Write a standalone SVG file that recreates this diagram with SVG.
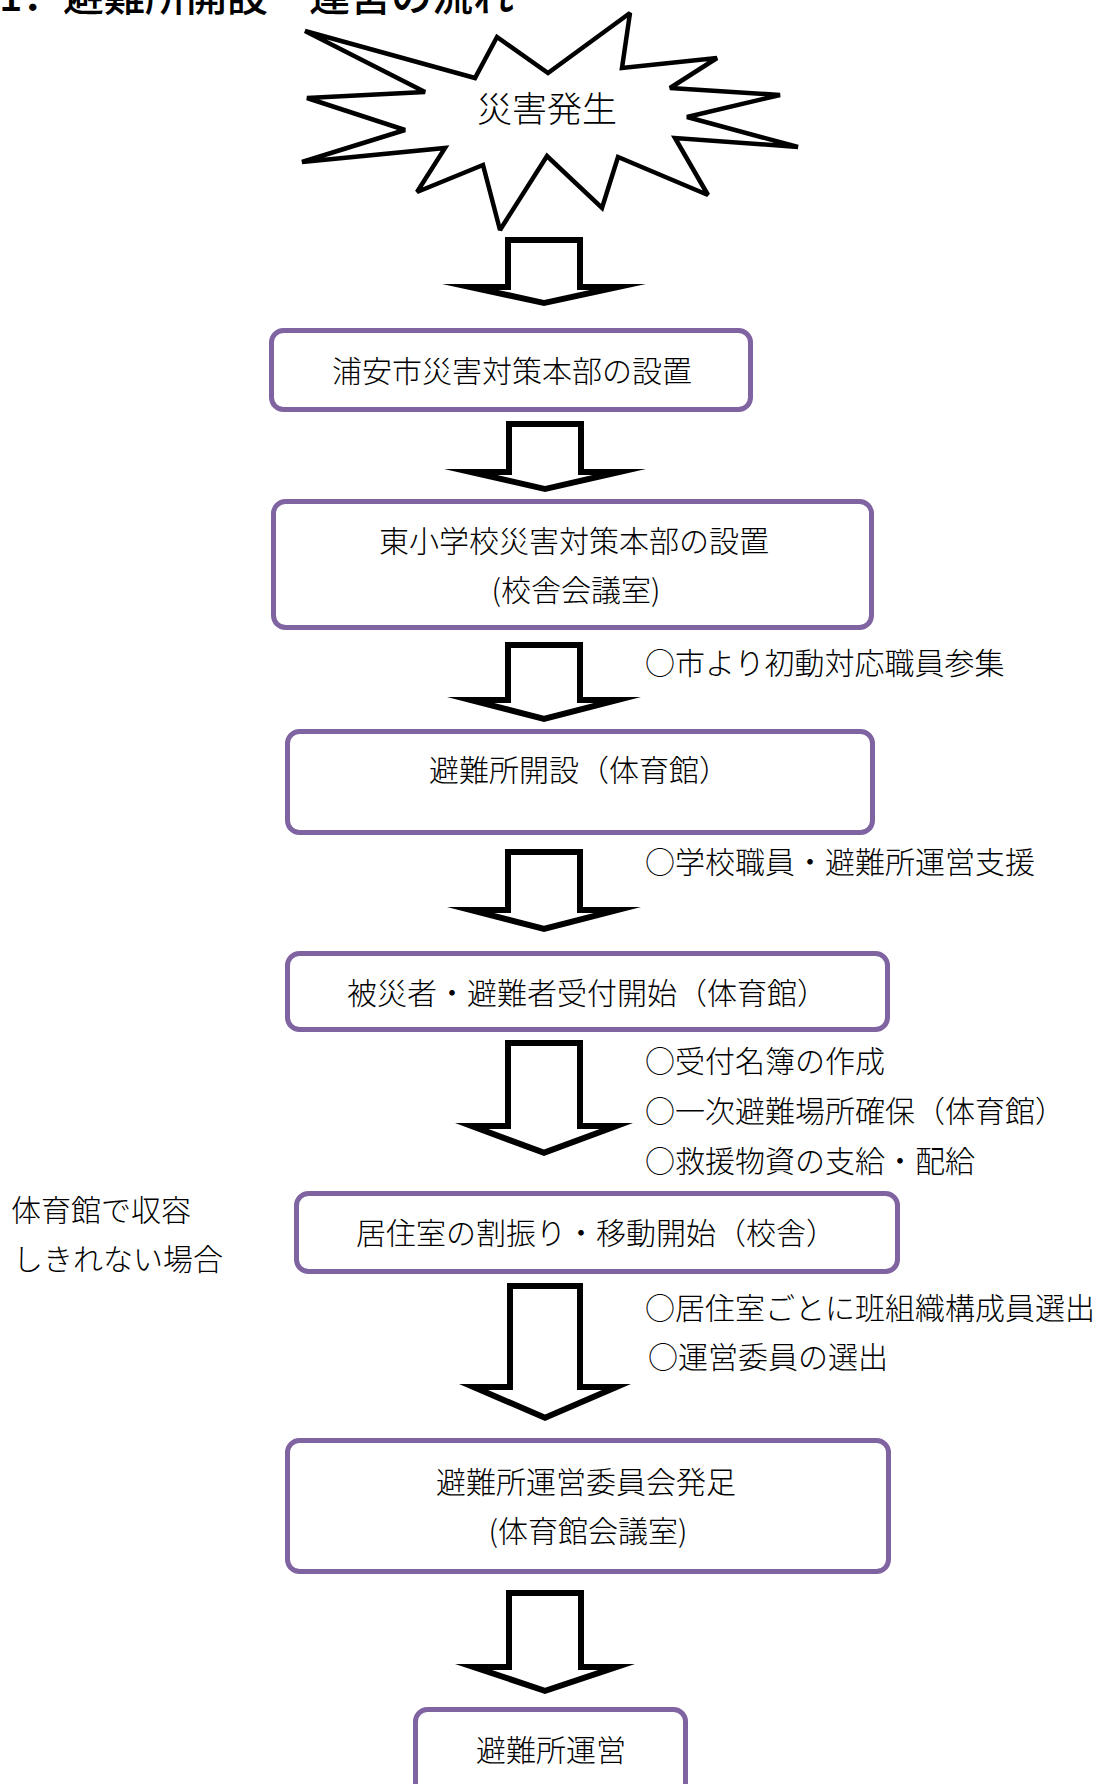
<svg xmlns="http://www.w3.org/2000/svg" width="1103" height="1784" viewBox="0 0 1103 1784">
<style>
.bg{fill:#ffffff}
.box{fill:#ffffff;stroke:#8064A2;stroke-width:5}
.t{font-family:"Noto Sans CJK JP","Noto Sans CJK SC",sans-serif;font-size:30px;fill:#000000;font-weight:300}
.title{font-family:"Noto Sans CJK JP","Noto Sans CJK SC",sans-serif;font-size:41px;fill:#000000;font-weight:500}
.star{fill:#ffffff;stroke:#000000;stroke-width:4.5;stroke-linejoin:miter;stroke-miterlimit:2.5}
.arrow{fill:#000000;fill-rule:evenodd}
.mid{text-anchor:middle}
</style>
<rect class="bg" x="0" y="0" width="1103" height="1784"/>
<g id="title">
<text class="title" y="11"><tspan x="-1">1．</tspan><tspan x="63">避難所開設</tspan><tspan x="268">・</tspan><tspan x="309">運営の流れ</tspan></text>
</g>
<g id="connectors">
<path class="arrow" d="M505,237 L583,237 L583,284 L646,284 L544,306 L442,284 L505,284 Z M511,243 L511,290 L498.3,290 L544,299.9 L589.7,290 L577,290 L577,243 Z"/>
<path class="arrow" d="M506,421 L584,421 L584,469 L646,469 L545,492 L444,469 L506,469 Z M512,427 L512,475 L497.4,475 L545,485.9 L592.6,475 L578,475 L578,427 Z"/>
<path class="arrow" d="M505,642 L583,642 L583,697 L641,697 L544,722 L447,697 L505,697 Z M511,648 L511,703 L494.3,703 L544,715.8 L593.7,703 L577,703 L577,648 Z"/>
<path class="arrow" d="M505,849 L583,849 L583,907 L641,907 L544,932 L447,907 L505,907 Z M511,855 L511,913 L494.3,913 L544,925.8 L593.7,913 L577,913 L577,855 Z"/>
<path class="arrow" d="M505,1040 L583,1040 L583,1123 L633,1123 L544,1156 L455,1123 L505,1123 Z M511,1046 L511,1129 L488.4,1129 L544,1149.6 L599.6,1129 L577,1129 L577,1046 Z"/>
<path class="arrow" d="M507,1283 L583,1283 L583,1384 L631,1384 L545,1421 L459,1384 L507,1384 Z M513,1289 L513,1390 L488.1,1390 L545,1414.5 L601.9,1390 L577,1390 L577,1289 Z"/>
<path class="arrow" d="M506,1590 L584,1590 L584,1664 L635,1664 L545,1694 L455,1664 L506,1664 Z M512,1596 L512,1670 L492,1670 L545,1687.7 L598,1670 L578,1670 L578,1596 Z"/>
</g>
<g id="node-disaster">
<polygon class="star" points="305,31 475,78 497,37 548,73 630,13 622,68 717,58 670,88 780,95 687,117 798,147 675,138 708,195 618,157 602,208 547,156 500,230 483,165 417,192 445,148 302,162 405,130 307,98 425,92"/>
<text class="t" x="477" y="122" style="font-size:35px">災害発生</text>
</g>
<g id="node-city-hq">
<rect class="box" x="271.5" y="330.5" width="479" height="79" rx="12"/>
<text class="t" x="332" y="382">浦安市災害対策本部の設置</text>
</g>
<g id="node-school-hq">
<rect class="box" x="273.5" y="501.5" width="598" height="126" rx="12"/>
<text class="t" x="379" y="552">東小学校災害対策本部の設置</text>
<text class="t mid" x="576" y="601">(校舎会議室)</text>
</g>
<g id="note-1">
<text class="t" x="645" y="674">○市より初動対応職員参集</text>
</g>
<g id="node-open">
<rect class="box" x="287.5" y="731.5" width="585" height="101" rx="12"/>
<text class="t" x="429" y="781">避難所開設（体育館）</text>
</g>
<g id="note-2">
<text class="t" x="645" y="873">○学校職員・避難所運営支援</text>
</g>
<g id="node-reception">
<rect class="box" x="287.5" y="953.5" width="600" height="76" rx="12"/>
<text class="t" x="347" y="1004">被災者・避難者受付開始（体育館）</text>
</g>
<g id="note-3">
<text class="t" x="645" y="1072">○受付名簿の作成</text>
<text class="t" x="645" y="1122">○一次避難場所確保（体育館）</text>
<text class="t" x="645" y="1172">○救援物資の支給・配給</text>
</g>
<g id="note-side">
<text class="t" x="11" y="1221">体育館で収容</text>
<text class="t" x="13" y="1270">しきれない場合</text>
</g>
<g id="node-rooms">
<rect class="box" x="296.5" y="1193.5" width="601" height="78" rx="12"/>
<text class="t" x="356" y="1244">居住室の割振り・移動開始（校舎）</text>
</g>
<g id="note-4">
<text class="t" x="645" y="1319">○居住室ごとに班組織構成員選出</text>
<text class="t" x="648" y="1368">○運営委員の選出</text>
</g>
<g id="node-committee">
<rect class="box" x="287.5" y="1440.5" width="601" height="131" rx="12"/>
<text class="t" x="436" y="1493">避難所運営委員会発足</text>
<text class="t mid" x="588" y="1542">(体育館会議室)</text>
</g>
<g id="node-operation">
<rect class="box" x="415.5" y="1709.5" width="270" height="90" rx="12"/>
<text class="t" x="476" y="1761">避難所運営</text>
</g>
</svg>
